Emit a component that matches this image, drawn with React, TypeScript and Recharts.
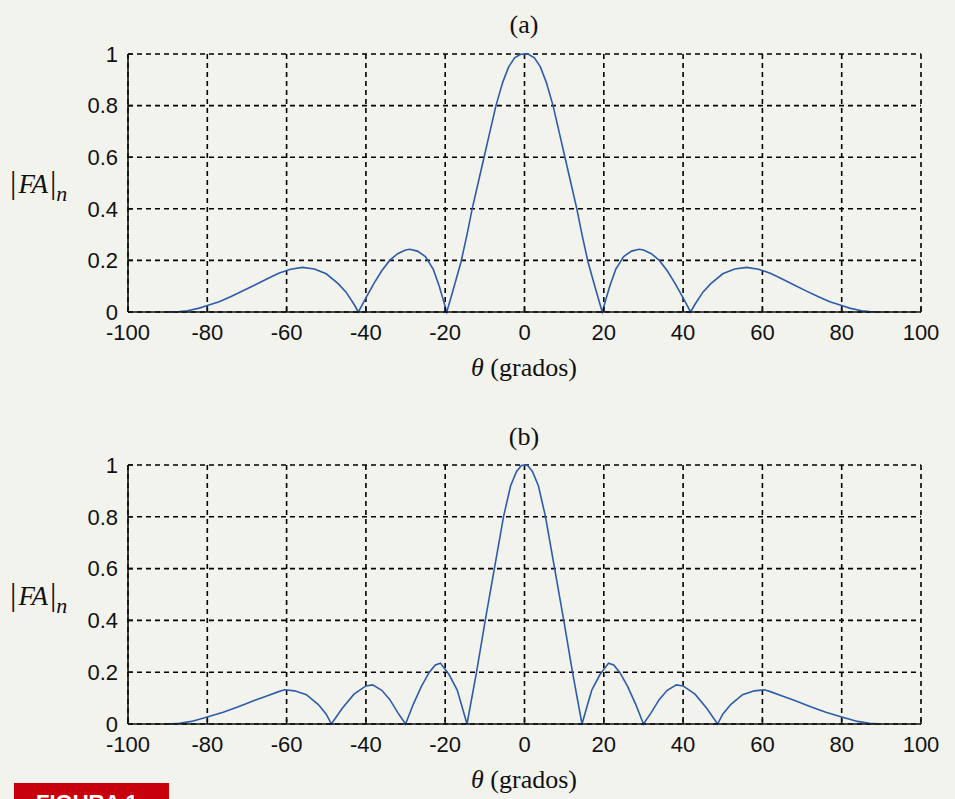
import React from 'react';
import { LineChart, Line, XAxis, YAxis, CartesianGrid } from 'recharts';

// (a) array factor
const thetaA = [
  -90, -87, -85, -82, -80, -77, -74, -71, -68, -65, -62, -59, -56, -53, -50, -47, -45, -43, -41.9,
  -40, -38, -36, -34, -32, -30, -28.9, -27, -25, -23, -21.5, -19.6,
  -18, -16, -14.5, -13.2, -11.7, -10.2, -8.7, -7.2, -5.5, -4, -2.5, -1, 0,
  1, 2.5, 4, 5.5, 7.2, 8.7, 10.2, 11.7, 13.2, 14.5, 16, 18,
  19.6, 21.5, 23, 25, 27, 28.9, 30, 32, 34, 36, 38, 40,
  41.9, 43, 45, 47, 50, 53, 56, 59, 62, 65, 68, 71, 74, 77, 80, 82, 85, 87, 90,
];
const faA = [
  0, 0.002, 0.005, 0.015, 0.025, 0.04, 0.06, 0.082, 0.105, 0.128, 0.15, 0.166, 0.173, 0.167, 0.148, 0.11, 0.077, 0.03, 0,
  0.055, 0.11, 0.16, 0.2, 0.226, 0.24, 0.243, 0.236, 0.215, 0.165, 0.1, 0,
  0.085, 0.195, 0.3, 0.4, 0.5, 0.6, 0.7, 0.8, 0.89, 0.95, 0.985, 0.999, 1,
  0.999, 0.985, 0.95, 0.89, 0.8, 0.7, 0.6, 0.5, 0.4, 0.3, 0.195, 0.085,
  0, 0.1, 0.165, 0.215, 0.236, 0.243, 0.24, 0.226, 0.2, 0.16, 0.11, 0.055,
  0, 0.03, 0.077, 0.11, 0.148, 0.167, 0.173, 0.166, 0.15, 0.128, 0.105, 0.082, 0.06, 0.04, 0.025, 0.015, 0.005, 0.002, 0,
];

// (b)
const thetaB = [
  -90, -87, -84, -80, -76, -72, -68, -65, -62, -60.5, -58, -55, -52, -50, -48.7,
  -46, -43, -40, -38.3, -36, -34, -32, -30,
  -28, -26, -24, -22.5, -21.2, -19, -17, -16, -14.5,
  -12.1, -9.9, -7.6, -5.3, -3.5, -2, -0.8, 0,
  0.8, 2, 3.5, 5.3, 7.6, 9.9, 12.1,
  14.5, 16, 17, 19, 21.2, 22.5, 24, 26, 28,
  30, 32, 34, 36, 38.3, 40, 43, 46,
  48.7, 50, 52, 55, 58, 60.5, 62, 65, 68, 72, 76, 80, 84, 87, 90,
];
const faB = [
  0, 0.003, 0.01, 0.027, 0.045, 0.068, 0.092, 0.108, 0.125, 0.132, 0.128, 0.113, 0.075, 0.038, 0,
  0.06, 0.115, 0.147, 0.151, 0.13, 0.095, 0.045, 0,
  0.078, 0.145, 0.2, 0.228, 0.235, 0.19, 0.132, 0.08, 0,
  0.2, 0.4, 0.6, 0.8, 0.92, 0.975, 0.998, 1,
  0.998, 0.975, 0.92, 0.8, 0.6, 0.4, 0.2,
  0, 0.08, 0.132, 0.19, 0.235, 0.228, 0.2, 0.145, 0.078,
  0, 0.045, 0.095, 0.13, 0.151, 0.147, 0.115, 0.06,
  0, 0.038, 0.075, 0.113, 0.128, 0.132, 0.125, 0.108, 0.092, 0.068, 0.045, 0.027, 0.01, 0.003, 0,
];

const xTicks = [-100, -80, -60, -40, -20, 0, 20, 40, 60, 80, 100];
const yTicks = [0, 0.2, 0.4, 0.6, 0.8, 1];

const dataA = thetaA.map((t, i) => ({ theta: t, fa: faA[i] }));
const dataB = thetaB.map((t, i) => ({ theta: t, fa: faB[i] }));

const BG = '#f3f3ee';
const INK = '#111';
const tickFont = { fontFamily: '"Liberation Sans", Arial, sans-serif', fontSize: 22, fill: INK };
const serif = '"Liberation Serif", "Times New Roman", serif';

const Panel = ({ data, top, height, marginTop, marginBottom }: any) => (
  <div style={{ position: 'absolute', left: 0, top }}>
    <LineChart
      width={955}
      height={height}
      data={data}
      margin={{ top: marginTop, right: 34, bottom: marginBottom, left: 88 }}
    >
      <CartesianGrid stroke="#000" strokeDasharray="5 4" strokeWidth={1.6} />
      <XAxis
        dataKey="theta"
        type="number"
        domain={[-100, 100]}
        ticks={xTicks}
        height={30}
        stroke={INK}
        strokeWidth={1.6}
        tickSize={-5}
        tickMargin={17}
        tick={tickFont}
        interval={0}
      />
      <XAxis
        xAxisId="top"
        orientation="top"
        dataKey="theta"
        type="number"
        domain={[-100, 100]}
        ticks={xTicks}
        height={0}
        stroke={INK}
        strokeWidth={1.6}
        tickSize={-5}
        tick={false}
      />
      <YAxis
        type="number"
        domain={[0, 1]}
        ticks={yTicks}
        width={40}
        stroke={INK}
        strokeWidth={1.6}
        tickSize={-5}
        tickMargin={15}
        tick={tickFont}
        interval={0}
        tickFormatter={(v: number) => String(v)}
      />
      <YAxis
        yAxisId="r"
        orientation="right"
        type="number"
        domain={[0, 1]}
        ticks={yTicks}
        width={0}
        stroke={INK}
        strokeWidth={1.6}
        tickSize={-5}
        tick={false}
      />
      <Line
        type="linear"
        dataKey="fa"
        stroke="#2d5caa"
        strokeWidth={1.6}
        dot={false}
        isAnimationActive={false}
      />
    </LineChart>
  </div>
);

const YLabel = ({ top }: { top: number }) => (
  <div style={{ position: 'absolute', left: 10, top, fontFamily: serif, color: INK, whiteSpace: 'nowrap', lineHeight: 1 }}>
    <span style={{ fontSize: 32 }}>|</span>
    <span style={{ fontSize: 27, fontStyle: 'italic', marginLeft: 2 }}>FA</span>
    <span style={{ fontSize: 32, marginLeft: 2 }}>|</span>
    <span style={{ fontSize: 22, fontStyle: 'italic', position: 'relative', top: 8 }}>n</span>
  </div>
);

const Centered = ({ top, children }: any) => (
  <div style={{ position: 'absolute', left: 424, width: 200, top, textAlign: 'center', fontFamily: serif, fontSize: 26, color: INK, lineHeight: 1, whiteSpace: 'nowrap' }}>
    {children}
  </div>
);

export default function App() {
  return (
    <div style={{ position: 'fixed', left: 0, top: 0, width: 955, height: 799, background: BG, overflow: 'hidden' }}>
      <Centered top={12}>(a)</Centered>
      <Panel data={dataA} top={0} height={400} marginTop={54} marginBottom={58} />
      <YLabel top={166} />
      <Centered top={355}><i>θ</i> (grados)</Centered>

      <Centered top={424}>(b)</Centered>
      <Panel data={dataB} top={400} height={399} marginTop={65} marginBottom={45} />
      <YLabel top={578} />
      <Centered top={767}><i>θ</i> (grados)</Centered>

      <div style={{ position: 'absolute', left: 14, top: 783, width: 155, height: 20, background: '#c8000b', overflow: 'hidden' }}>
        <div style={{ position: 'absolute', left: 22, top: 9, fontFamily: '"Liberation Sans", Arial, sans-serif', fontWeight: 700, fontSize: 22, color: '#fff', lineHeight: 1 }}>
          FIGURA 1
        </div>
      </div>
    </div>
  );
}
